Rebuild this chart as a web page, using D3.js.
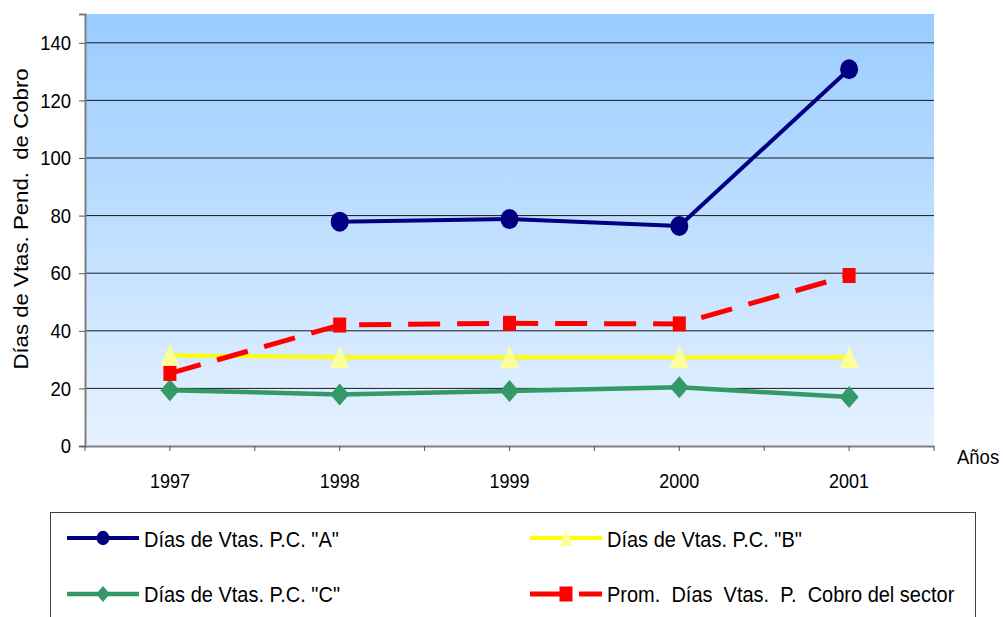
<!DOCTYPE html>
<html>
<head>
<meta charset="utf-8">
<script src="https://cdn.jsdelivr.net/npm/d3@7"></script>
<style>
  html, body { margin: 0; padding: 0; background: #ffffff; }
  svg { display: block; font-family: "Liberation Sans", Arial, sans-serif; }
</style>
</head>
<body>
<svg id="chart" width="1003" height="617"></svg>
<script>
// Categories and series
const years = ["1997", "1998", "1999", "2000", "2001"];
const diasA = [null, 77.9, 78.8, 76.4, 130.8];
const diasB = [31.5, 30.8, 30.8, 30.8, 30.8];
const diasC = [19.4, 17.9, 19.1, 20.4, 17.0];
const promSector = [25.2, 42.0, 42.6, 42.4, 59.2];
const yTicks = [0, 20, 40, 60, 80, 100, 120, 140];

const seriesNames = [
  'Días de Vtas. P.C. "A"',
  'Días de Vtas. P.C. "B"',
  'Días de Vtas. P.C. "C"',
  'Prom.  Días  Vtas.  P.  Cobro del sector'
];

const svg = d3.select("#chart");
const stretch = 1.12; // vertical text stretch

const plot = { left: 85, right: 934, top: 14, bottom: 446 };

const x = d3.scaleBand().domain(years).range([plot.left, plot.right]);
const xc = d => x(d) + x.bandwidth() / 2;
const y = d3.scaleLinear().domain([0, 150]).range([plot.bottom, plot.top]);

// Plot background gradient
const defs = svg.append("defs");
const grad = defs.append("linearGradient").attr("id", "bg")
  .attr("x1", 0).attr("y1", 0).attr("x2", 0).attr("y2", 1);
grad.append("stop").attr("offset", "0%").attr("stop-color", "#99CCFF");
grad.append("stop").attr("offset", "100%").attr("stop-color", "#E6F2FF");

svg.append("rect")
  .attr("x", plot.left).attr("y", plot.top)
  .attr("width", plot.right - plot.left).attr("height", plot.bottom - plot.top)
  .attr("fill", "url(#bg)");

// Horizontal gridlines
svg.append("g").selectAll("line")
  .data(yTicks.filter(v => v > 0))
  .join("line")
  .attr("x1", plot.left).attr("x2", plot.right)
  .attr("y1", d => y(d)).attr("y2", d => y(d))
  .attr("stroke", "#1a1a1a").attr("stroke-width", 1);

// Y axis
const yAxis = svg.append("g")
  .attr("transform", `translate(${plot.left},0)`)
  .call(d3.axisLeft(y).tickValues(yTicks).tickSize(6).tickPadding(8));
yAxis.select(".domain").attr("stroke", "#7f7f7f").attr("stroke-width", 2);
yAxis.selectAll(".tick line").attr("stroke", "#555");
yAxis.selectAll("text")
  .attr("font-size", 18.5).attr("fill", "#000")
  .attr("font-family", '"Liberation Sans", Arial, sans-serif')
  .attr("transform", `scale(1,${stretch})`);

// X axis (labels and ticks at category centres)
const xAxis = svg.append("g")
  .attr("transform", `translate(0,${plot.bottom})`)
  .call(d3.axisBottom(x).tickSize(5).tickPadding(20).tickSizeOuter(0));
xAxis.select(".domain").attr("stroke", "#7f7f7f").attr("stroke-width", 2);
xAxis.selectAll(".tick line").attr("stroke", "#555");
xAxis.selectAll("text")
  .attr("font-size", 18).attr("fill", "#000")
  .attr("font-family", '"Liberation Sans", Arial, sans-serif')
  .attr("transform", `scale(1,${stretch})`);

// Extra ticks at category boundaries
const bounds = years.map(d => x(d)).concat([x.range()[1]]);
svg.append("g").selectAll("line")
  .data(bounds)
  .join("line")
  .attr("x1", d => d).attr("x2", d => d)
  .attr("y1", plot.bottom).attr("y2", plot.bottom + 5)
  .attr("stroke", "#555");

// Axis titles
svg.append("text")
  .attr("transform", `translate(28,219) rotate(-90) scale(1.14,1)`)
  .attr("text-anchor", "middle")
  .attr("font-size", 19.5)
  .style("white-space", "pre")
  .text("Días de Vtas. Pend.  de Cobro");

svg.append("text")
  .attr("transform", `translate(957,464) scale(1,${stretch})`)
  .attr("font-size", 18.5)
  .text("Años");

// Marker shapes
function marker(g, type, color, cx, cy, s) {
  if (type === "circle") {
    g.append("ellipse").attr("cx", cx).attr("cy", cy)
      .attr("rx", 9 * s).attr("ry", 10 * s).attr("fill", color);
  } else if (type === "triangle") {
    const w = 19 * s, h = 22 * s;
    g.append("path")
      .attr("d", `M${cx},${cy - h / 2}L${cx + w / 2},${cy + h / 2}L${cx - w / 2},${cy + h / 2}Z`)
      .attr("fill", color);
  } else if (type === "diamond") {
    const w = 19 * s, h = 22 * s;
    g.append("path")
      .attr("d", `M${cx},${cy - h / 2}L${cx + w / 2},${cy}L${cx},${cy + h / 2}L${cx - w / 2},${cy}Z`)
      .attr("fill", color);
  } else if (type === "square") {
    const w = 13 * s, h = 15 * s;
    g.append("rect").attr("x", cx - w / 2).attr("y", cy - h / 2)
      .attr("width", w).attr("height", h).attr("fill", color);
  }
}

const series = [
  { name: seriesNames[0], values: diasA, line: "#000080", mark: "#000080", type: "circle", width: 4, dash: null },
  { name: seriesNames[1], values: diasB, line: "#FFFF00", mark: "#FFFF99", type: "triangle", width: 4, dash: null },
  { name: seriesNames[2], values: diasC, line: "#339966", mark: "#339966", type: "diamond", width: 4.5, dash: null },
  { name: seriesNames[3], values: promSector, line: "#FF0000", mark: "#FF0000", type: "square", width: 5, dash: "32,17" }
];

const lineGen = d3.line()
  .defined(d => d.v !== null)
  .x(d => xc(d.year))
  .y(d => y(d.v));

series.forEach(s => {
  const pts = years.map((yr, i) => ({ year: yr, v: s.values[i] }));
  const g = svg.append("g");
  g.append("path")
    .datum(pts)
    .attr("d", lineGen)
    .attr("fill", "none")
    .attr("stroke", s.line)
    .attr("stroke-width", s.width)
    .attr("stroke-linejoin", "round")
    .attr("stroke-dasharray", s.dash);
  pts.filter(p => p.v !== null).forEach(p => marker(g, s.type, s.mark, xc(p.year), y(p.v), 1));
});

// Legend
svg.append("rect")
  .attr("x", 50.5).attr("y", 512.5)
  .attr("width", 925).attr("height", 130)
  .attr("fill", "#ffffff").attr("stroke", "#404040").attr("stroke-width", 1);

const legendPos = [
  { lx: 67, tx: 144, ly: 538, ty: 547 },
  { lx: 530, tx: 607, ly: 538, ty: 547 },
  { lx: 67, tx: 144, ly: 594, ty: 602 },
  { lx: 530, tx: 607, ly: 594, ty: 602 }
];

series.forEach((s, i) => {
  const p = legendPos[i];
  const g = svg.append("g");
  g.append("line")
    .attr("x1", p.lx).attr("x2", p.lx + 72)
    .attr("y1", p.ly).attr("y2", p.ly)
    .attr("stroke", s.line).attr("stroke-width", s.width)
    .attr("stroke-dasharray", s.dash);
  marker(g, s.type, s.mark, p.lx + 36, p.ly, s.type === "square" ? 1 : 0.72);
  g.append("text")
    .attr("transform", `translate(${p.tx},${p.ty}) scale(1,${stretch * 0.96})`)
    .attr("font-size", 20)
    .style("white-space", "pre")
    .text(s.name);
});
</script>
</body>
</html>
